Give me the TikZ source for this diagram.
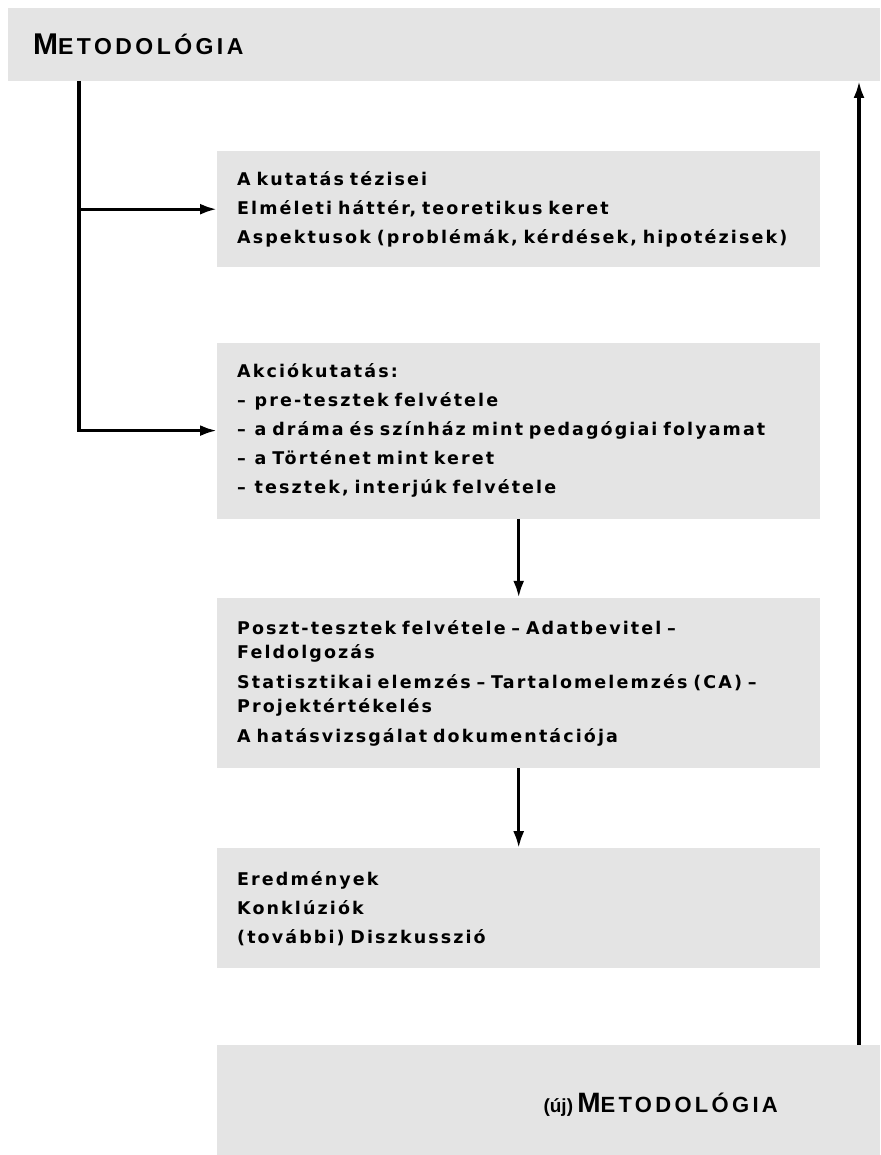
\documentclass[tikz,border=0pt]{standalone}
\usepackage{fontspec}
\setmainfont{Liberation Sans}
\newfontfamily\boxfont[LetterSpace=12]{DejaVu Sans}
\newfontfamily\titlefont[LetterSpace=15]{Liberation Sans}
\usetikzlibrary{positioning,arrows.meta}
\definecolor{boxgray}{RGB}{228,228,228}

\begin{document}
\begin{tikzpicture}[x=1pt,y=-1pt,
  conn/.style={-{Latex[length=17pt,width=11pt]},line width=3.2pt},
  topbar/.style={fill=boxgray,anchor=north west,text width=822pt,inner xsep=25pt,
    minimum height=73pt,align=left,font=\titlefont\bfseries},
  stepbox/.style={fill=boxgray,anchor=north west,text width=563pt,inner xsep=20pt,
    inner ysep=0pt,align=left,font=\boxfont\bfseries\fontsize{17.5}{24}\selectfont}]

 \useasboundingbox (0,0) rectangle (880,1155);

 \node[topbar] (met) at (8,8)
   {{\fontsize{30}{30}\selectfont M}{\fontsize{23}{23}\selectfont ETODOLÓGIA}};

 \node[stepbox,minimum height=116pt] (aims) at (217,151)
   {A kutatás tézisei\\[5pt]
    Elméleti háttér, teoretikus keret\\[5pt]
    Aspektusok (problémák, kérdések, hipotézisek)};
 \node[stepbox,minimum height=176pt,below=75pt of aims] (action)
   {Akciókutatás:\\[5pt]
    –\enspace pre-tesztek felvétele\\[5pt]
    –\enspace a dráma és színház mint pedagógiai folyamat\\[5pt]
    –\enspace a Történet mint keret\\[5pt]
    –\enspace tesztek, interjúk felvétele};
 \node[stepbox,minimum height=170pt,below=79pt of action] (analysis)
   {Poszt-tesztek felvétele – Adatbevitel –\\
    Feldolgozás\\[6pt]
    Statisztikai elemzés – Tartalomelemzés (CA) –\\
    Projektértékelés\\[6pt]
    A hatásvizsgálat dokumentációja};
 \node[stepbox,minimum height=120pt,below=80pt of analysis] (results)
   {Eredmények\\[5pt]
    Konklúziók\\[5pt]
    (további) Diszkusszió};
 \node[fill=boxgray,minimum width=663pt,minimum height=115pt,
   below=76pt of results.south west,anchor=north west] (newmet) {};
 \node[anchor=base west,font=\titlefont\bfseries] (newmettext) at (540,1112)
   {{\normalfont\bfseries\fontsize{19}{19}\selectfont (új)} {\fontsize{28}{28}\selectfont M}{\fontsize{22}{22}\selectfont ETODOLÓGIA}};

 \coordinate (ltop) at (79,81);
 \coordinate (rtop) at (859,81);

 \draw[conn] (ltop) |- (action.west);
 \draw[conn] (ltop |- aims.west) -- (aims.west);
 \draw[conn] (action.south) -- (analysis.north);
 \draw[conn] (analysis.south) -- (results.north);
 \draw[conn] (newmet.north -| rtop) -- (rtop);

\end{tikzpicture}
\end{document}
